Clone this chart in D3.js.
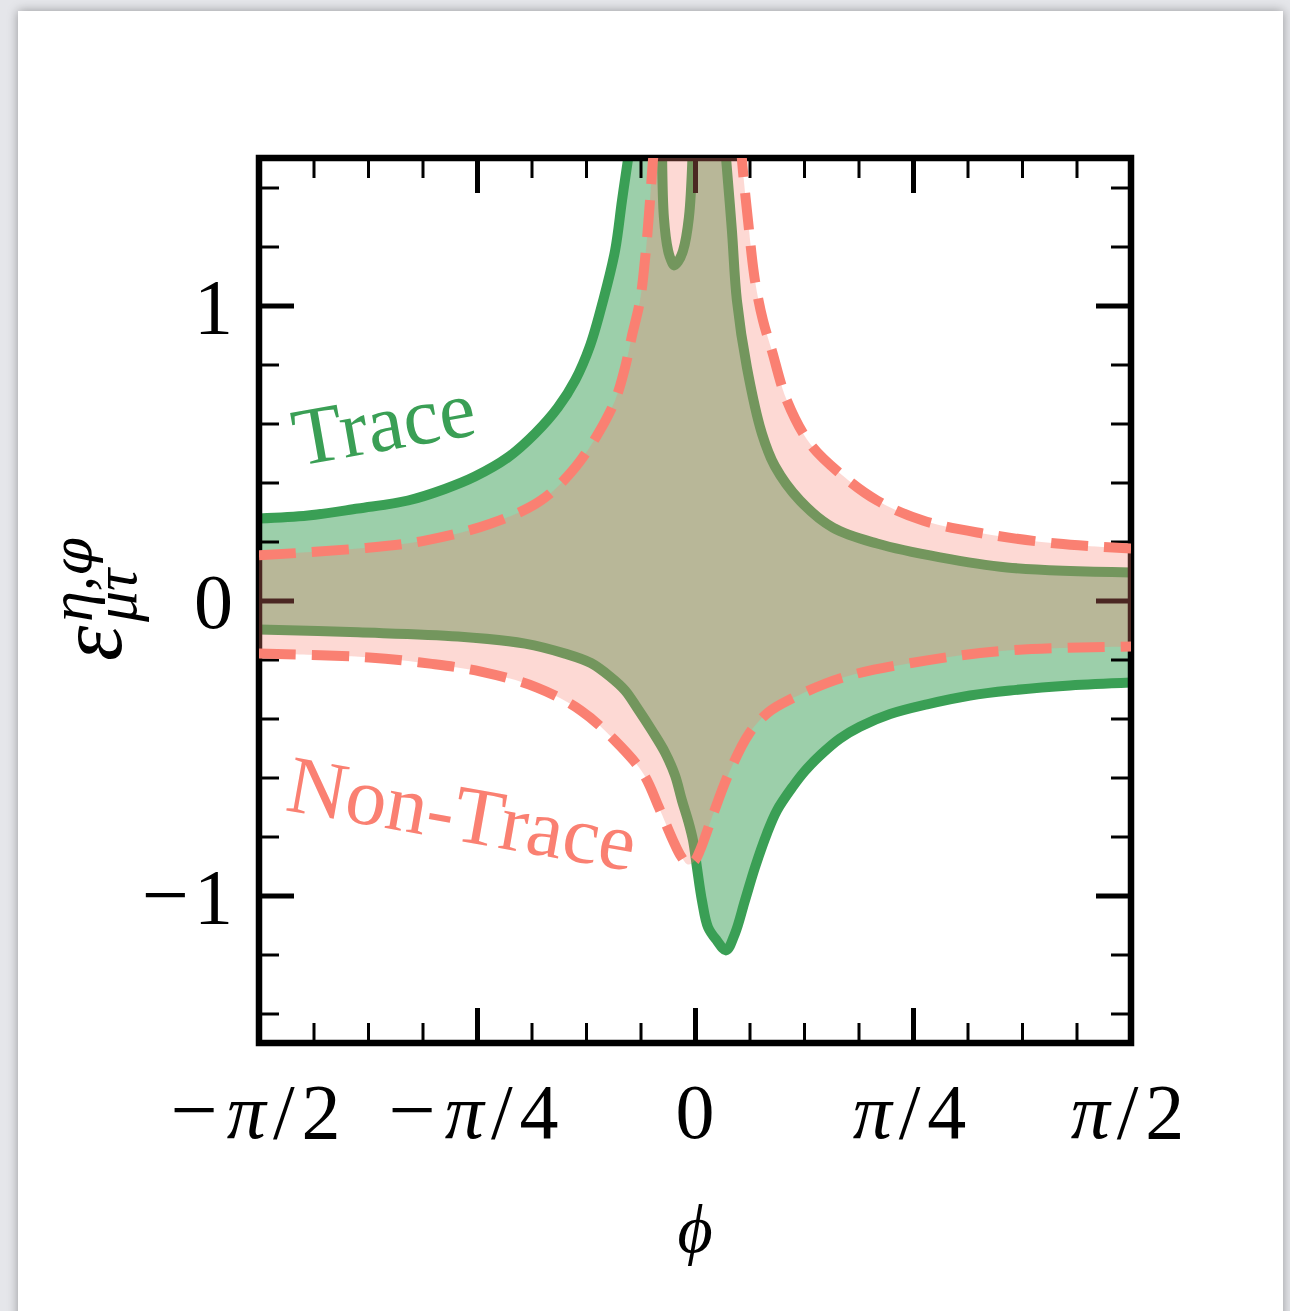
<!DOCTYPE html>
<html>
<head>
<meta charset="utf-8">
<script src="https://cdn.jsdelivr.net/npm/d3@7"></script>
<style>
  html, body { margin: 0; padding: 0; }
  body { width: 1290px; height: 1311px; background: #e5e6ea; position: relative; overflow: hidden; }
  #card { position: absolute; left: 18px; top: 11px; width: 1265px; height: 1330px; background: #fff;
          box-shadow: 0 0 10px rgba(0,0,0,0.35); }
  svg { position: absolute; left: 0; top: 0; }
</style>
</head>
<body>
<div id="card"></div>
<svg id="chart" width="1290" height="1311"></svg>
<script>
// boundaries: [phi (rad), epsilon]
var traceUpperLeft = [[-1.571,0.278],[-1.394,0.288],[-1.214,0.312],[-1.034,0.339],[-0.901,0.378],[-0.793,0.420],
  [-0.674,0.485],[-0.576,0.566],[-0.494,0.654],[-0.432,0.746],[-0.378,0.864],[-0.331,1.017],[-0.288,1.186],
  [-0.263,1.356],[-0.241,1.498],[-0.231,1.56]];
var traceTongue = [[-0.119,1.56],[-0.112,1.298],[-0.097,1.186],[-0.086,1.153],[-0.076,1.136],[-0.061,1.149],
  [-0.043,1.186],[-0.022,1.298],[-0.007,1.56]];
var traceUpperRight = [[0.106,1.56],[0.112,1.498],[0.133,1.254],[0.151,1.017],[0.187,0.790],[0.241,0.566],
  [0.288,0.455],[0.378,0.339],[0.497,0.247],[0.656,0.193],[0.883,0.146],[1.124,0.112],[1.571,0.095]];
var traceLower = [[-1.571,-0.098],[-1.214,-0.108],[-0.854,-0.122],[-0.612,-0.146],[-0.468,-0.180],[-0.375,-0.212],
  [-0.306,-0.258],[-0.252,-0.305],[-0.209,-0.363],[-0.155,-0.441],[-0.108,-0.515],[-0.072,-0.593],[-0.047,-0.678],
  [-0.025,-0.746],[-0.007,-0.814],[0.007,-0.905],[0.025,-1.017],[0.047,-1.108],[0.079,-1.153],[0.112,-1.186],
  [0.144,-1.129],[0.180,-1.017],[0.216,-0.905],[0.259,-0.790],[0.295,-0.712],[0.353,-0.630],[0.396,-0.578],
  [0.454,-0.522],[0.522,-0.468],[0.594,-0.428],[0.703,-0.385],[0.836,-0.352],[0.991,-0.322],[1.135,-0.305],
  [1.351,-0.288],[1.571,-0.278]];

var nonTraceUpperLeft = [[-1.571,0.153],[-1.214,0.176],[-0.973,0.203],[-0.735,0.261],[-0.555,0.339],[-0.432,0.451],
  [-0.349,0.566],[-0.288,0.678],[-0.252,0.790],[-0.227,0.898],[-0.198,1.017],[-0.177,1.186],[-0.162,1.356],
  [-0.151,1.498],[-0.144,1.56]];
var nonTraceUpperRight = [[0.166,1.56],[0.169,1.498],[0.191,1.288],[0.216,1.085],[0.245,0.949],[0.277,0.847],
  [0.331,0.678],[0.414,0.532],[0.522,0.431],[0.656,0.339],[0.821,0.271],[1.038,0.227],[1.304,0.193],[1.571,0.176]];
var nonTraceLower = [[-1.571,-0.180],[-1.174,-0.193],[-0.955,-0.214],[-0.771,-0.241],[-0.569,-0.295],[-0.411,-0.373],
  [-0.288,-0.475],[-0.187,-0.586],[-0.130,-0.702],[-0.079,-0.814],[-0.050,-0.868],[-0.025,-0.895],[0.000,-0.881],
  [0.018,-0.847],[0.061,-0.736],[0.122,-0.586],[0.195,-0.451],[0.263,-0.380],[0.335,-0.339],[0.533,-0.261],
  [0.836,-0.203],[1.135,-0.169],[1.571,-0.156]];

var xMajor = [-Math.PI/2, -Math.PI/4, 0, Math.PI/4, Math.PI/2];
var xMajorLabels = [['−','π','/2'], ['−','π','/4'], ['','','0'], ['','π','/4'], ['','π','/2']];
var xMinorSteps = [-7,-6,-5,-3,-2,-1,1,2,3,5,6,7]; // multiples of pi/16
var yMajor = [-1, 0, 1];
var yMajorLabels = [['−','1'], ['','0'], ['','1']];
var yMinor = [-1.4,-1.2,-0.8,-0.6,-0.4,-0.2,0.2,0.4,0.6,0.8,1.2,1.4];

var green = '#3a9f55', salmon = '#fa8072';
var serif = '"Liberation Serif", "DejaVu Serif", serif';

var svg = d3.select('#chart');
var pL = 259, pR = 1131, pT = 158, pB = 1043;

var x = d3.scaleLinear().domain([-Math.PI/2, Math.PI/2]).range([pL, pR]);
var y = d3.scaleLinear().domain([-1.5, 1.5]).range([pB, pT]);

svg.append('defs').append('clipPath').attr('id', 'clip')
  .append('rect').attr('x', pL).attr('y', pT).attr('width', pR-pL).attr('height', pB-pT);

var line = d3.line()
  .x(function(d){ return x(d[0]); })
  .y(function(d){ return y(d[1]); })
  .curve(d3.curveCatmullRom.alpha(0.5));

function outline(segs) {
  return segs.map(function(s, i){
    var p = line(s);
    return i ? 'L' + p.slice(1) : p;
  }).join('') + 'Z';
}

var plot = svg.append('g').attr('clip-path', 'url(#clip)');

// Trace
plot.append('path')
  .attr('d', outline([traceUpperLeft, traceTongue, traceUpperRight, traceLower.slice().reverse()]))
  .attr('fill', green).attr('fill-opacity', 0.5);
[traceUpperLeft, traceTongue, traceUpperRight, traceLower].forEach(function(s){
  plot.append('path').attr('d', line(s)).attr('fill', 'none')
    .attr('stroke', green).attr('stroke-width', 10).attr('stroke-linejoin', 'round');
});

// axes: inner ticks on all four sides
var minorX = xMinorSteps.map(function(k){ return k*Math.PI/16; });
function styleAxis(g, w) {
  g.select('.domain').remove();
  g.selectAll('.tick line').attr('stroke', '#000').attr('stroke-width', w);
  g.selectAll('.tick text').remove();
}
var axes = svg.append('g');
[[d3.axisBottom, pB], [d3.axisTop, pT]].forEach(function(a){
  axes.append('g').attr('transform', 'translate(0,' + a[1] + ')')
    .call(a[0](x).tickValues(xMajor).tickSize(-35).tickFormat(''))
    .call(styleAxis, 5);
  axes.append('g').attr('transform', 'translate(0,' + a[1] + ')')
    .call(a[0](x).tickValues(minorX).tickSize(-20).tickFormat(''))
    .call(styleAxis, 3);
});
[[d3.axisLeft, pL], [d3.axisRight, pR]].forEach(function(a){
  axes.append('g').attr('transform', 'translate(' + a[1] + ',0)')
    .call(a[0](y).tickValues(yMajor).tickSize(-35).tickFormat(''))
    .call(styleAxis, 5);
  axes.append('g').attr('transform', 'translate(' + a[1] + ',0)')
    .call(a[0](y).tickValues(yMinor).tickSize(-20).tickFormat(''))
    .call(styleAxis, 3);
});
axes.append('rect').attr('x', pL).attr('y', pT).attr('width', pR-pL).attr('height', pB-pT)
  .attr('fill', 'none').attr('stroke', '#000').attr('stroke-width', 6.5);

// Non-Trace
var plot2 = svg.append('g').attr('clip-path', 'url(#clip)');
plot2.append('path')
  .attr('d', outline([nonTraceUpperLeft, nonTraceUpperRight, nonTraceLower.slice().reverse()]))
  .attr('fill', salmon).attr('fill-opacity', 0.3);
[nonTraceUpperLeft, nonTraceUpperRight, nonTraceLower].forEach(function(s){
  plot2.append('path').attr('d', line(s)).attr('fill', 'none')
    .attr('stroke', salmon).attr('stroke-width', 10).attr('stroke-dasharray', '37,16');
});

// tick labels
xMajor.forEach(function(v, i){
  var parts = xMajorLabels[i];
  var t = svg.append('text').attr('x', x(v)).attr('y', 1138)
    .attr('text-anchor', 'middle').attr('font-family', serif).attr('font-size', 78)
    .attr('letter-spacing', parts[1] ? 7 : 0);
  if (parts[0]) t.append('tspan').attr('font-size', 84).text(parts[0]);
  if (parts[1]) t.append('tspan').attr('dx', parts[0] ? 2 : 0).attr('font-style', 'italic').text(parts[1]);
  t.append('tspan').text(parts[2]);
});
yMajor.forEach(function(v, i){
  var t = svg.append('text').attr('x', 233).attr('y', y(v) + 27)
    .attr('text-anchor', 'end').attr('font-family', serif).attr('font-size', 78);
  if (yMajorLabels[i][0]) t.append('tspan').attr('font-size', 84).text(yMajorLabels[i][0]);
  t.append('tspan').attr('dx', yMajorLabels[i][0] ? 5 : 0).text(yMajorLabels[i][1]);
});

// axis labels
svg.append('text').attr('x', 695).attr('y', 1252).attr('text-anchor', 'middle')
  .attr('font-family', serif).attr('font-style', 'italic').attr('font-size', 68).text('ϕ');
var yl = svg.append('g').attr('transform', 'translate(121,661) rotate(-90)')
  .attr('font-family', serif).attr('font-style', 'italic');
yl.append('text').attr('x', 0).attr('y', 0).attr('font-size', 90).text('ε');
var sup = yl.append('text').attr('x', 39).attr('y', -29).attr('font-size', 62);
sup.append('tspan').text('η,');
sup.append('tspan').attr('font-family', '"DejaVu Serif", serif').attr('font-size', 54).text('φ');
yl.append('text').attr('x', 39).attr('y', 15).attr('font-size', 62).text('μτ');

// region labels
svg.append('text').attr('transform', 'translate(298,466) rotate(-10)')
  .attr('font-family', serif).attr('font-size', 82).attr('fill', green).text('Trace');
svg.append('text').attr('transform', 'translate(284,810) rotate(10)')
  .attr('font-family', serif).attr('font-size', 82).attr('fill', salmon).text('Non-Trace');
</script>
</body>
</html>
